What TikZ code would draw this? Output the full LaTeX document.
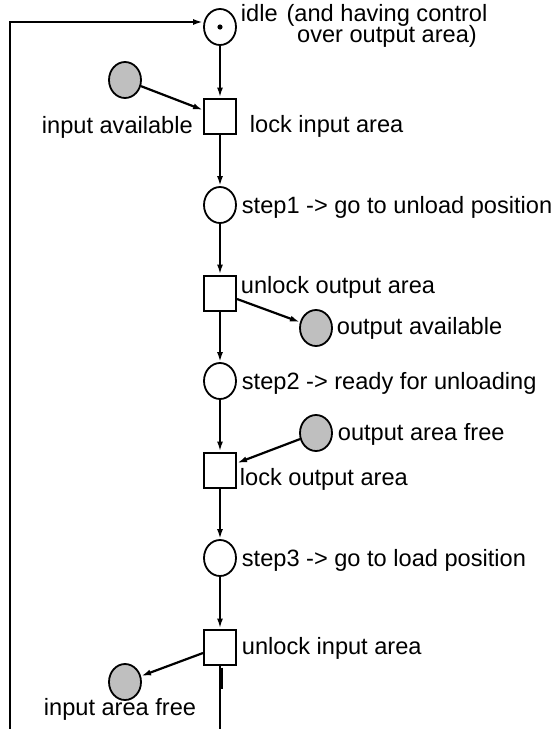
\documentclass[tikz,border=0pt]{standalone}
\usepackage{fontspec}
\setmainfont{Liberation Sans}
\usetikzlibrary{arrows.meta,shapes.geometric}

\begin{document}
\begin{tikzpicture}[x=0.5pt,y=-0.5pt,
  font=\fontsize{11.8}{14}\selectfont,
  place/.style={ellipse,draw,line width=0.9pt,inner sep=0pt,minimum width=16pt,minimum height=18pt},
  resource/.style={place,fill=black!25},
  trans/.style={rectangle,draw,line width=1pt,inner sep=0pt,minimum width=16pt,minimum height=17.5pt},
  lbl/.style={anchor=base west,inner sep=0pt},
  arc/.style={line width=1.1pt,-{Latex[length=5pt,width=3pt]}}]
  \useasboundingbox (0,0) rectangle (556,729);
  \node[place] (idle) at (220,27) {};
  \fill (idle.center) circle (1.3pt);
  \foreach \n/\y in {step1/205, step2/381, step3/558}
    \node[place] (\n) at (220,\y) {};
  \foreach \n/\y in {lockin/116, unlockout/293, lockout/470, unlockin/647}
    \node[trans] (\n) at (220,\y) {};
  \node[resource] (avail) at (125,80) {};
  \node[resource] (outavail) at (316,328) {};
  \node[resource] (outfree) at (316,433) {};
  \node[resource] (infree) at (125,682) {};
  \coordinate (loopend) at (10,729);
  \coordinate (exitend) at (220,729);

  \foreach \a/\b in {idle/lockin, lockin/step1, step1/unlockout, unlockout/step2,
                     step2/lockout, lockout/step3, step3/unlockin}
    \draw[arc] (\a) -- (\b);
  \draw[arc] (loopend) |- ([yshift=2.5pt]idle.west);
  \draw[arc] (avail) -- ([yshift=3pt]lockin.west);
  \draw[arc] ([yshift=-3pt]unlockout.east) -- (outavail);
  \draw[arc] (outfree) -- ([yshift=3.5pt]lockout.east);
  \draw[arc] ([yshift=-3pt]unlockin.west) -- (infree);
  \draw[line width=1.1pt] (unlockin) -- (exitend);
  \draw[line width=1.8pt] ([shift={(0.6pt,-1pt)}]unlockin.south) -- ++(0,21);

  \node[lbl] at (240.5,21) {idle};
  \node[anchor=base,inner sep=0pt,align=center] at (387,42) {(and having control\\[-3.5pt]over output area)};
  \node[lbl] at (41.5,133) {input available};
  \node[lbl] at (249.5,132) {lock input area};
  \node[lbl] at (241.5,213) {step1 -> go to unload position};
  \node[lbl] at (240.5,293) {unlock output area};
  \node[lbl] at (336.5,334) {output available};
  \node[lbl] at (241.5,389) {step2 -> ready for unloading};
  \node[lbl] at (337.5,440) {output area free};
  \node[lbl] at (239.5,485) {lock output area};
  \node[lbl] at (241.5,566) {step3 -> go to load position};
  \node[lbl] at (241.5,654) {unlock input area};
  \node[lbl] at (43.5,715) {input area free};
\end{tikzpicture}
\end{document}
